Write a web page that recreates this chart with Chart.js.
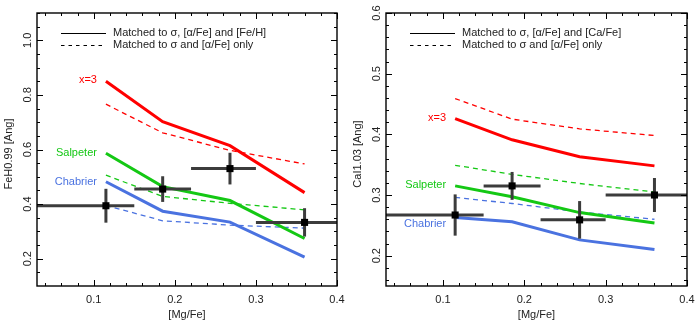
<!DOCTYPE html>
<html>
<head>
<meta charset="utf-8">
<script src="https://cdn.jsdelivr.net/npm/chart.js@4/dist/chart.umd.min.js"></script>
<style>
  html, body { margin: 0; padding: 0; background: #fff; }
  #wrap { width: 699px; height: 330px; display: flex; }
  canvas { display: block; }
</style>
</head>
<body>
<div id="wrap">
  <canvas id="fehChart" width="349" height="330"></canvas>
  <canvas id="caChart" width="350" height="330"></canvas>
</div>
<script>
// --- data ---
const modelX = [0.115, 0.185, 0.268, 0.36];

// FeH0.99 panel
const fehX3 = [0.850, 0.702, 0.614, 0.442];
const fehX3Only = [0.766, 0.661, 0.597, 0.547];
const fehSalp = [0.586, 0.464, 0.413, 0.274];
const fehSalpOnly = [0.506, 0.428, 0.403, 0.379];
const fehChab = [0.482, 0.374, 0.334, 0.206];
const fehChabOnly = [0.395, 0.339, 0.323, 0.312];
const fehObs = [0.394, 0.455, 0.530, 0.333];
const fehErr = [0.062, 0.047, 0.058, 0.052];
const fehTicks = [0.2, 0.4, 0.6, 0.8, 1.0];

// CaI1.03 panel
const caX3 = [0.426, 0.391, 0.363, 0.348];
const caX3Only = [0.459, 0.425, 0.409, 0.398];
const caSalp = [0.315, 0.297, 0.271, 0.254];
const caSalpOnly = [0.349, 0.334, 0.319, 0.305];
const caChab = [0.263, 0.256, 0.226, 0.210];
const caChabOnly = [0.296, 0.286, 0.272, 0.260];
const caObs = [0.267, 0.315, 0.259, 0.300];
const caErr = [0.034, 0.023, 0.031, 0.028];
const caTicks = [0.2, 0.3, 0.4, 0.5, 0.6];

// observed bins (x error bars)
const obsX = [0.115, 0.185, 0.268, 0.36];
const obsXLo = [0.0, 0.15, 0.22, 0.30];
const obsXHi = [0.15, 0.22, 0.30, 0.45];

const xTicks = [0.1, 0.2, 0.3, 0.4];
const imfNames = ["x=3", "Salpeter", "Chabrier"];

const RED = "#ff0000", GREEN = "#14c814", BLUE = "#4a72e0", BAR = "#3c3c3c";
const FONT = "11px 'Liberation Sans', Arial, sans-serif";

function makePanel(id, opts) {
  const pts = ys => ys.map((y, i) => ({ x: modelX[i], y }));
  const datasets = [];

  // squares on top
  datasets.push({
    data: opts.obs.map((y, i) => ({ x: obsX[i], y })),
    showLine: false, pointStyle: "rect", pointRadius: 5,
    backgroundColor: "#000", borderColor: "#000", borderWidth: 0
  });

  // error bars as two-point segments
  opts.obs.forEach((y, i) => {
    datasets.push({
      data: [{ x: obsXLo[i], y }, { x: obsXHi[i], y }],
      borderColor: BAR, borderWidth: 3, pointRadius: 0, showLine: true
    });
    datasets.push({
      data: [{ x: obsX[i], y: y - opts.err[i] }, { x: obsX[i], y: y + opts.err[i] }],
      borderColor: BAR, borderWidth: 3, pointRadius: 0, showLine: true
    });
  });

  // model curves
  const curves = [
    [opts.x3, RED], [opts.salp, GREEN], [opts.chab, BLUE]
  ];
  const dashed = [
    [opts.x3Only, RED], [opts.salpOnly, GREEN], [opts.chabOnly, BLUE]
  ];
  curves.forEach(([ys, c]) => datasets.push({
    data: pts(ys), borderColor: c, borderWidth: 3, pointRadius: 0, showLine: true
  }));
  dashed.forEach(([ys, c]) => datasets.push({
    data: pts(ys), borderColor: c, borderWidth: 1.3, borderDash: [5, 4], pointRadius: 0, showLine: true
  }));

  const frame = {
    id: "frame",
    afterDraw(chart) {
      const ctx = chart.ctx;
      const a = chart.chartArea;
      const xs = chart.scales.x, ys = chart.scales.y;
      ctx.save();
      ctx.strokeStyle = "#000";
      ctx.lineWidth = 1.4;
      ctx.strokeRect(a.left, a.top, a.right - a.left, a.bottom - a.top);

      // inward ticks on all sides
      ctx.lineWidth = 1;
      const tick = (x1, y1, x2, y2) => { ctx.beginPath(); ctx.moveTo(x1, y1); ctx.lineTo(x2, y2); ctx.stroke(); };
      for (let v = 0.04; v <= 0.4001; v += 0.02) {
        const major = xTicks.some(t => Math.abs(t - v) < 1e-6);
        const len = major ? 6 : 3;
        const px = Math.round(xs.getPixelForValue(v)) + 0.5;
        tick(px, a.bottom, px, a.bottom - len);
        tick(px, a.top, px, a.top + len);
      }
      for (let v = opts.minorStart; v <= ys.max + 1e-6; v += opts.minor) {
        if (v < ys.min + 1e-6) continue;
        const major = opts.ticks.some(t => Math.abs(t - v) < 1e-6);
        const len = major ? 6 : 3;
        const py = Math.round(ys.getPixelForValue(v)) + 0.5;
        tick(a.left, py, a.left + len, py);
        tick(a.right, py, a.right - len, py);
      }

      ctx.fillStyle = "#222";
      ctx.font = FONT;
      ctx.textAlign = "center";
      ctx.textBaseline = "middle";
      xTicks.forEach(t => ctx.fillText(t.toFixed(1), xs.getPixelForValue(t), a.bottom + 14));
      ctx.fillText("[Mg/Fe]", (a.left + a.right) / 2, a.bottom + 29);

      opts.ticks.forEach(t => {
        ctx.save();
        ctx.translate(a.left - 9, ys.getPixelForValue(t));
        ctx.rotate(-Math.PI / 2);
        ctx.fillText(t.toFixed(1), 0, 0);
        ctx.restore();
      });
      ctx.save();
      ctx.translate(9, 154);
      ctx.rotate(-Math.PI / 2);
      ctx.fillText(opts.yTitle, 0, 0);
      ctx.restore();

      // legend
      ctx.textAlign = "left";
      ctx.strokeStyle = "#000";
      ctx.lineWidth = 1.2;
      tick(61, 33.5, 106, 33.5);
      ctx.setLineDash([3.5, 4]);
      tick(61, 45.5, 106, 45.5);
      ctx.setLineDash([]);
      ctx.fillStyle = "#222";
      ctx.fillText(opts.legend[0], 113, 33);
      ctx.fillText(opts.legend[1], 113, 45);

      // IMF labels next to the curves
      ctx.textAlign = "right";
      const lx = xs.getPixelForValue(modelX[0]) - 9;
      [RED, GREEN, BLUE].forEach((c, i) => {
        ctx.fillStyle = c;
        ctx.fillText(imfNames[i], lx, ys.getPixelForValue(opts.labelY[i]));
      });
      ctx.restore();
    }
  };

  return new Chart(document.getElementById(id), {
    type: "scatter",
    data: { datasets },
    options: {
      responsive: false,
      animation: false,
      layout: { padding: { left: 37, right: 12, top: 13, bottom: 44 } },
      plugins: { legend: { display: false }, tooltip: { enabled: false } },
      elements: { line: { tension: 0, fill: false } },
      scales: {
        x: { type: "linear", min: 0.03, max: 0.4, display: false },
        y: { type: "linear", min: opts.yMin, max: opts.yMax, display: false }
      }
    },
    plugins: [frame]
  });
}

makePanel("fehChart", {
  x3: fehX3, x3Only: fehX3Only, salp: fehSalp, salpOnly: fehSalpOnly,
  chab: fehChab, chabOnly: fehChabOnly, obs: fehObs, err: fehErr,
  yMin: 0.1, yMax: 1.1, ticks: fehTicks, minor: 0.05, minorStart: 0.15,
  yTitle: "FeH0.99 [Ang]",
  legend: ["Matched to \u03c3, [\u03b1/Fe] and [Fe/H]", "Matched to \u03c3 and [\u03b1/Fe] only"],
  labelY: [0.853, 0.589, 0.48]
});

makePanel("caChart", {
  x3: caX3, x3Only: caX3Only, salp: caSalp, salpOnly: caSalpOnly,
  chab: caChab, chabOnly: caChabOnly, obs: caObs, err: caErr,
  yMin: 0.15, yMax: 0.6, ticks: caTicks, minor: 0.02, minorStart: 0.16,
  yTitle: "CaI1.03 [Ang]",
  legend: ["Matched to \u03c3, [\u03b1/Fe] and [Ca/Fe]", "Matched to \u03c3 and [\u03b1/Fe] only"],
  labelY: [0.427, 0.316, 0.252]
});
</script>
</body>
</html>
